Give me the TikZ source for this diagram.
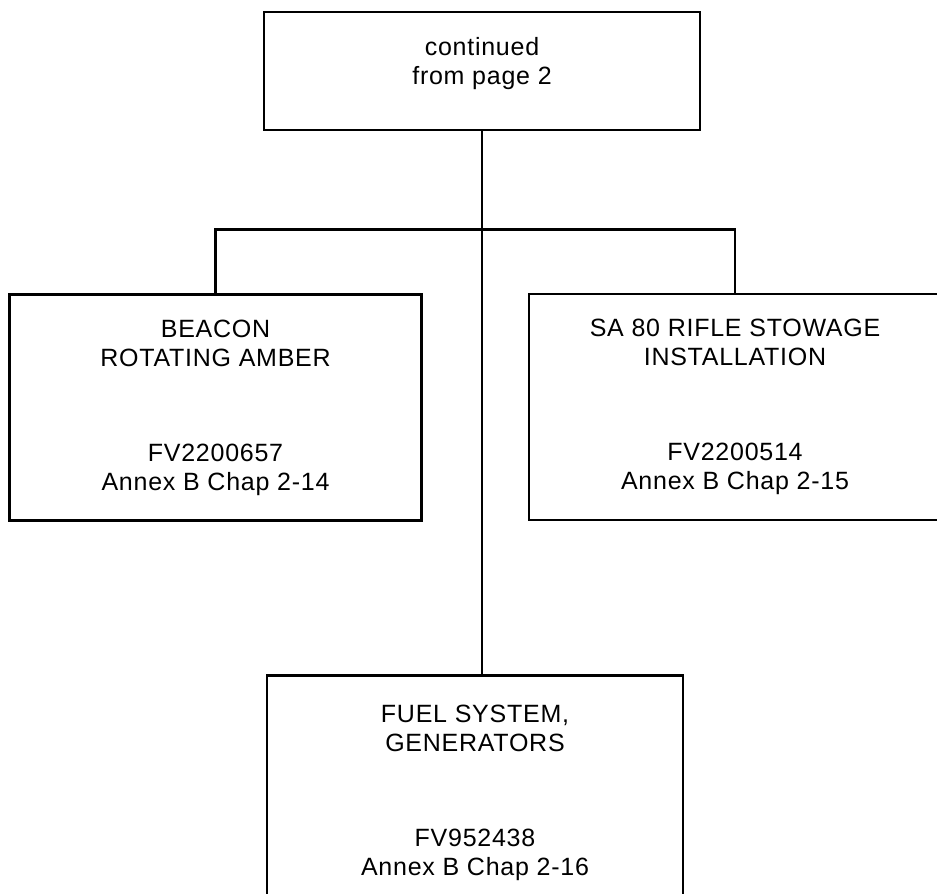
\documentclass[tikz,border=0pt]{standalone}
\usepackage{fontspec}
\setmainfont{Liberation Sans}[LetterSpace=3.0]
\usetikzlibrary{positioning}

\begin{document}
\begin{tikzpicture}[x=0.5pt, y=-0.5pt, line width=1.3pt,
    font=\fontsize{12.5pt}{14.5pt}\selectfont]
  \tikzset{partbox/.style={draw, minimum width=206pt, minimum height=113pt, align=center, inner sep=0pt}}
  \useasboundingbox (0,0) rectangle (937,894);
  \node[partbox, minimum width=218pt, minimum height=59pt, text depth=10pt] (cont) at (482,71) {continued\\from page 2};
  \node[partbox] (beacon) at (215.5,407.5) {BEACON\\ROTATING AMBER\\[33pt]FV2200657\\Annex B Chap 2-14};
  \node[partbox] (rifle) at (735,407) {SA 80 RIFLE STOWAGE\\INSTALLATION\\[33pt]FV2200514\\Annex B Chap 2-15};
  \node[partbox, minimum width=208pt, minimum height=117pt, below=271.5pt of cont, xshift=-3.5pt] (fuel) {FUEL SYSTEM,\\GENERATORS\\[33pt]FV952438\\Annex B Chap 2-16};
  \coordinate (fork) at ([yshift=-49pt]cont.south);
  \draw (cont.south) -- (cont.south |- fuel.north);
  \draw (beacon.north) |- (fork) -| (rifle.north);
\end{tikzpicture}
\end{document}
